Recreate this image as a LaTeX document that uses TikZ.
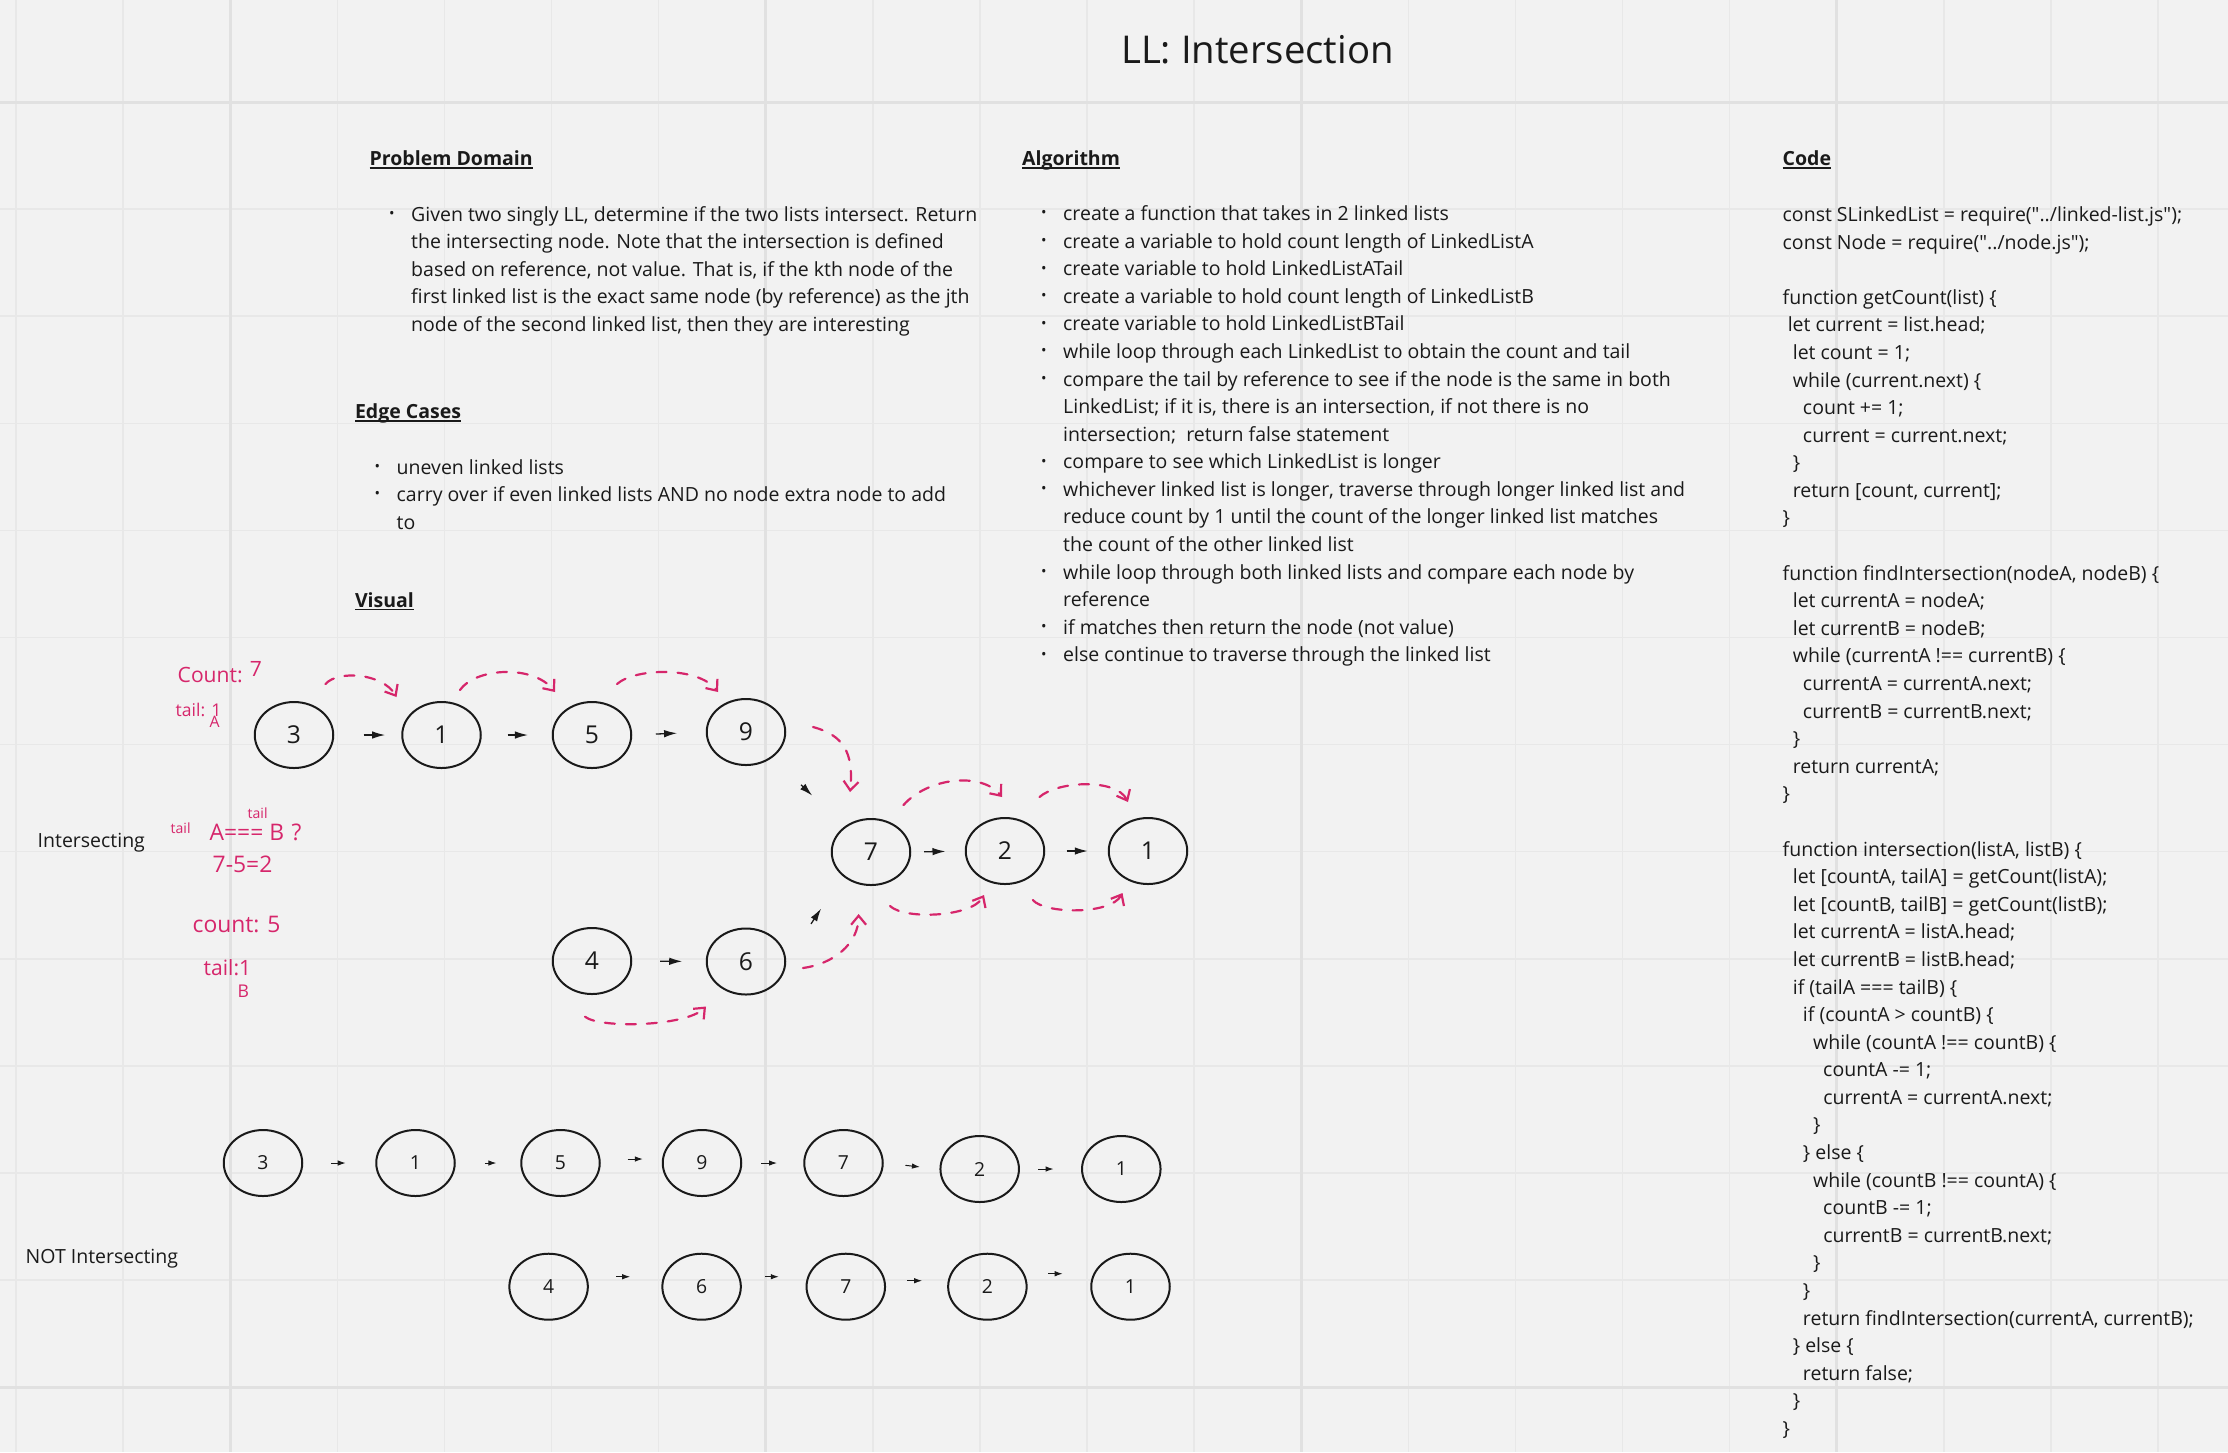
\documentclass[tikz,border=0pt]{standalone}
\usepackage{fontspec}
\usepackage{graphicx}
\setmainfont{Open Sans}
\usetikzlibrary{shapes.geometric,arrows.meta,calc}

\definecolor{board}{HTML}{F2F2F2}
\definecolor{gridmin}{HTML}{E8E8E8}
\definecolor{gridmaj}{HTML}{E1E1E1}
\definecolor{ink}{HTML}{1A1A1A}
\definecolor{marker}{RGB}{214,38,107}

\newcommand{\bodyfont}{\fontsize{5.55pt}{7.85pt}\selectfont}
\newcommand{\headul}[1]{\setbox0\hbox{\bfseries #1}\rlap{\rule[-0.3mm]{\wd0}{0.14mm}}\box0}
\newcommand{\cind}[1]{\hspace*{#1\fontdimen2\font}}
\newcommand{\bul}{\makebox[2.2mm][l]{\raisebox{0.25ex}{\scalebox{0.75}{\textbullet}}}}
\newcommand{\bulgap}{\hspace*{2.2mm}}
\newcommand{\qq}{\textquotedbl}

\begin{document}
\begin{tikzpicture}[x=0.1mm,y=-0.1mm,
  gridln/.style={draw=gridmin,line width=0.15mm},
  gridmj/.style={draw=gridmaj,line width=0.3mm},
  txt/.style={anchor=base west,inner sep=0pt,text=ink,font=\bodyfont},
  head/.style={txt},
  llnode/.style={ellipse,draw=ink,line width=0.2mm,minimum width=7.85mm,minimum height=6.6mm,inner sep=0pt,text=ink,font=\fontsize{7pt}{8pt}\selectfont},
  llsmall/.style={llnode,font=\fontsize{5.5pt}{6pt}\selectfont},
  nxt/.style={draw=ink,line width=0.13mm,-{Latex[length=1.3mm,width=0.75mm]}},
  nxts/.style={draw=ink,line width=0.1mm,-{Latex[length=0.8mm,width=0.55mm]}},
  trav/.style={draw=marker,line width=0.22mm,dash pattern=on 1mm off 1.1mm,line cap=round,-{Straight Barb[length=0.9mm,width=1.5mm]}},
  scrib/.style={anchor=base west,inner sep=0pt,text=marker}]

% board and grid
\fill[board] (0,0) rectangle (2228,1452);
\useasboundingbox (0,0) rectangle (2228,1452);
\foreach \gx in {0,...,20} \draw[gridln] ({16+107.1*\gx},0) -- ({16+107.1*\gx},1452);
\foreach \gy in {0,...,12} \draw[gridln] (0,{102+107.1*\gy}) -- (2228,{102+107.1*\gy});
\foreach \gx in {2,7,12,17} \draw[gridmj] ({16+107.1*\gx},0) -- ({16+107.1*\gx},1452);
\foreach \gy in {0,12} \draw[gridmj] (0,{102+107.1*\gy}) -- (2228,{102+107.1*\gy});

% title and headings
\node[txt,font=\fontsize{10.9pt}{12pt}\selectfont] (title) at (1120.5,63.3) {LL: Intersection};
\node[head] (hprob) at (369,165.7) {\headul{Problem Domain}};
\node[head] (halgo) at (1021.5,165.7) {\headul{Algorithm}};
\node[head] (hcode) at (1782,165.7) {\headul{Code}};
\node[head] (hedge) at (354.3,418.5) {\headul{Edge Cases}};
\node[head] (hvis) at (354.3,607) {\headul{Visual}};

% problem domain
\node[txt] (prob) at (388.5,221) {\begin{tabular}[t]{@{}l@{}}
\bul Given two singly LL, determine if the two lists intersect. Return\\
\bulgap the intersecting node. Note that the intersection is defined\\
\bulgap based on reference, not value. That is, if the kth node of the\\
\bulgap first linked list is the exact same node (by reference) as the jth\\
\bulgap node of the second linked list, then they are interesting
\end{tabular}};

% edge cases
\node[txt] (edge) at (374,474) {\begin{tabular}[t]{@{}l@{}}
\bul uneven linked lists\\
\bul carry over if even linked lists AND no node extra node to add\\
\bulgap to
\end{tabular}};

% algorithm
\node[txt] (algo) at (1040.5,220.5) {\begin{tabular}[t]{@{}l@{}}
\bul create a function that takes in 2 linked lists\\
\bul create a variable to hold count length of LinkedListA\\
\bul create variable to hold LinkedListATail\\
\bul create a variable to hold count length of LinkedListB\\
\bul create variable to hold LinkedListBTail\\
\bul while loop through each LinkedList to obtain the count and tail\\
\bul compare the tail by reference to see if the node is the same in both\\
\bulgap LinkedList; if it is, there is an intersection, if not there is no\\
\bulgap intersection;\ \ return false statement\\
\bul compare to see which LinkedList is longer\\
\bul whichever linked list is longer, traverse through longer linked list and\\
\bulgap reduce count by 1 until the count of the longer linked list matches\\
\bulgap the count of the other linked list\\
\bul while loop through both linked lists and compare each node by\\
\bulgap reference\\
\bul if matches then return the node (not value)\\
\bul else continue to traverse through the linked list
\end{tabular}};

% code
\node[txt] (code) at (1782,221.5) {\begin{tabular}[t]{@{}l@{}}
const SLinkedList = require(\qq../linked-list.js\qq);\\
const Node = require(\qq../node.js\qq);\\
\mbox{}\\
function getCount(list) \{\\
\cind{1}let current = list.head;\\
\cind{2}let count = 1;\\
\cind{2}while (current.next) \{\\
\cind{4}count += 1;\\
\cind{4}current = current.next;\\
\cind{2}\}\\
\cind{2}return [count, current];\\
\}\\
\mbox{}\\
function findIntersection(nodeA, nodeB) \{\\
\cind{2}let currentA = nodeA;\\
\cind{2}let currentB = nodeB;\\
\cind{2}while (currentA !== currentB) \{\\
\cind{4}currentA = currentA.next;\\
\cind{4}currentB = currentB.next;\\
\cind{2}\}\\
\cind{2}return currentA;\\
\}\\
\mbox{}\\
function intersection(listA, listB) \{\\
\cind{2}let [countA, tailA] = getCount(listA);\\
\cind{2}let [countB, tailB] = getCount(listB);\\
\cind{2}let currentA = listA.head;\\
\cind{2}let currentB = listB.head;\\
\cind{2}if (tailA === tailB) \{\\
\cind{4}if (countA > countB) \{\\
\cind{6}while (countA !== countB) \{\\
\cind{8}countA -= 1;\\
\cind{8}currentA = currentA.next;\\
\cind{6}\}\\
\cind{4}\} else \{\\
\cind{6}while (countB !== countA) \{\\
\cind{8}countB -= 1;\\
\cind{8}currentB = currentB.next;\\
\cind{6}\}\\
\cind{4}\}\\
\cind{4}return findIntersection(currentA, currentB);\\
\cind{2}\} else \{\\
\cind{4}return false;\\
\cind{2}\}\\
\}
\end{tabular}};

% side labels
\node[txt] (lblyes) at (37,847) {Intersecting};
\node[txt] (lblno) at (25,1263) {NOT Intersecting};

% intersecting lists
\node[llnode] (a3) at (294,735) {3};
\node[llnode] (a1) at (441.5,735) {1};
\node[llnode] (a5) at (592,735) {5};
\node[llnode] (a9) at (746,732) {9};
\node[llnode] (c7) at (871,852) {7};
\node[llnode] (c2) at (1005,851) {2};
\node[llnode] (c1) at (1148,851) {1};
\node[llnode] (b4) at (592,961) {4};
\node[llnode] (b6) at (746,961.5) {6};

\path[nxt] ($(a3.east)!.44!(a1.west)$) -- ($(a3.east)!.76!(a1.west)$);
\path[nxt] ($(a1.east)!.37!(a5.west)$) -- ($(a1.east)!.66!(a5.west)$);
\path[nxt] ($(a5.east)!.32!(a9.west)$) -- ($(a5.east)!.61!(a9.west)$);
\path[nxt] ($(a9)!.44!(c7)$) -- ($(a9)!.53!(c7)$);
\path[nxt] ($(c7.east)!.24!(c2.west)$) -- ($(c7.east)!.64!(c2.west)$);
\path[nxt] ($(c2.east)!.34!(c1.west)$) -- ($(c2.east)!.68!(c1.west)$);
\path[nxt] ($(b4.east)!.38!(b6.west)$) -- ($(b4.east)!.68!(b6.west)$);
\path[nxt] ($(b6.east)!.44!(c7.south west)$) -- ($(b6.east)!.62!(c7.south west)$);

% traversal marks
\draw[trav] ([shift={(31.5,-51)}]a3.center) .. controls +(12,-14) and +(-14,-24) .. ([shift={(-45,-38)}]a1.center);
\draw[trav] ([shift={(18.5,-45)}]a1.center) .. controls +(15,-22) and +(-22,-28) .. ([shift={(-37,-43)}]a5.center);
\draw[trav] ([shift={(25,-51)}]a5.center) .. controls +(18,-16) and +(-20,-26) .. ([shift={(-28,-40)}]a9.center);
\draw[trav] ([shift={(67,-5)}]a9.center) .. controls +(30,8) and +(4,-40) .. ([shift={(-21,-60)}]c7.center);
\draw[trav] ([shift={(32.5,-47)}]c7.center) .. controls +(25,-28) and +(-20,-25) .. ([shift={(-3,-54)}]c2.center);
\draw[trav] ([shift={(34.5,-54)}]c2.center) .. controls +(18,-16) and +(-12,-24) .. ([shift={(-20,-49)}]c1.center);
\draw[trav] ([shift={(19,54)}]c7.center) .. controls +(15,14) and +(-12,22) .. ([shift={(-21,44)}]c2.center);
\draw[trav] ([shift={(27.8,49)}]c2.center) .. controls +(12,14) and +(-12,22) .. ([shift={(-25.5,42)}]c1.center);
\draw[trav] ([shift={(57,6.5)}]b6.center) .. controls +(30,-4) and +(0,30) .. ([shift={(-12.4,62)}]c7.center);
\draw[trav] ([shift={(-7,55.7)}]b4.center) .. controls +(15,12) and +(-20,20) .. ([shift={(-40,45)}]b6.center);

% notes
\node[scrib,font=\fontsize{6pt}{7pt}\selectfont] (cntA) at (177,682) {Count: \raisebox{0.5ex}{7}};
\node[scrib,font=\fontsize{5pt}{6pt}\selectfont] (tailA) at (175,716) {tail: 1};
\node[scrib,font=\fontsize{4.5pt}{5pt}\selectfont] (tagA) at (209,727) {A};
\node[scrib,font=\fontsize{4pt}{5pt}\selectfont] (tailL) at (170,833) {tail};
\node[scrib,font=\fontsize{6.5pt}{7pt}\selectfont] (cmp) at (209,840) {A=== B\,\,?};
\node[scrib,font=\fontsize{4pt}{5pt}\selectfont] (tailR) at (247,818) {tail};
\node[scrib,font=\fontsize{6.5pt}{7pt}\selectfont] (diff) at (212,872) {7-5=2};
\node[scrib,font=\fontsize{6.5pt}{7pt}\selectfont] (cntB) at (192,932) {count: 5};
\node[scrib,font=\fontsize{6pt}{7pt}\selectfont] (tailB) at (203,975) {tail:1};
\node[scrib,font=\fontsize{5pt}{6pt}\selectfont] (tagB) at (237,997) {B};

% not intersecting lists
\node[llsmall] (p3) at (263,1163) {3};
\node[llsmall] (p1) at (415.5,1163) {1};
\node[llsmall] (p5) at (560.5,1163) {5};
\node[llsmall] (p9) at (702,1163) {9};
\node[llsmall] (p7) at (843.5,1163) {7};
\node[llsmall] (p2) at (979.7,1169) {2};
\node[llsmall] (p1b) at (1121.3,1169) {1};
\node[llsmall] (q4) at (548.6,1286.7) {4};
\node[llsmall] (q6) at (701.6,1286.7) {6};
\node[llsmall] (q7) at (845.8,1286.7) {7};
\node[llsmall] (q2) at (987.4,1286.7) {2};
\node[llsmall] (q1) at (1130.5,1286.7) {1};

\path[nxts] ($(p3.east)!.39!(p1.west)$) -- ($(p3.east)!.59!(p1.west)$);
\path[nxts] ($(p1.east)!.45!(p5.west)$) -- ($(p1.east)!.63!(p5.west)$);
\path[nxts] ($(p5.east)!.44!(p9.west)+(0,-4)$) -- ($(p5.east)!.69!(p9.west)+(0,-4)$);
\path[nxts] ($(p9.east)!.31!(p7.west)$) -- ($(p9.east)!.57!(p7.west)$);
\path[nxts] ($(p7.east)!.39!(p2.west)$) -- ($(p7.east)!.65!(p2.west)$);
\path[nxts] ($(p2.east)!.30!(p1b.west)$) -- ($(p2.east)!.55!(p1b.west)$);
\path[nxts] ($(q4.east)!.38!(q6.west)+(0,-10)$) -- ($(q4.east)!.57!(q6.west)+(0,-10)$);
\path[nxts] ($(q6.east)!.37!(q7.west)+(0,-10)$) -- ($(q6.east)!.58!(q7.west)+(0,-10)$);
\path[nxts] ($(q7.east)!.35!(q2.west)+(0,-6)$) -- ($(q7.east)!.59!(q2.west)+(0,-6)$);
\path[nxts] ($(q2.east)!.33!(q1.west)+(0,-13)$) -- ($(q2.east)!.56!(q1.west)+(0,-13)$);
\end{tikzpicture}
\end{document}
